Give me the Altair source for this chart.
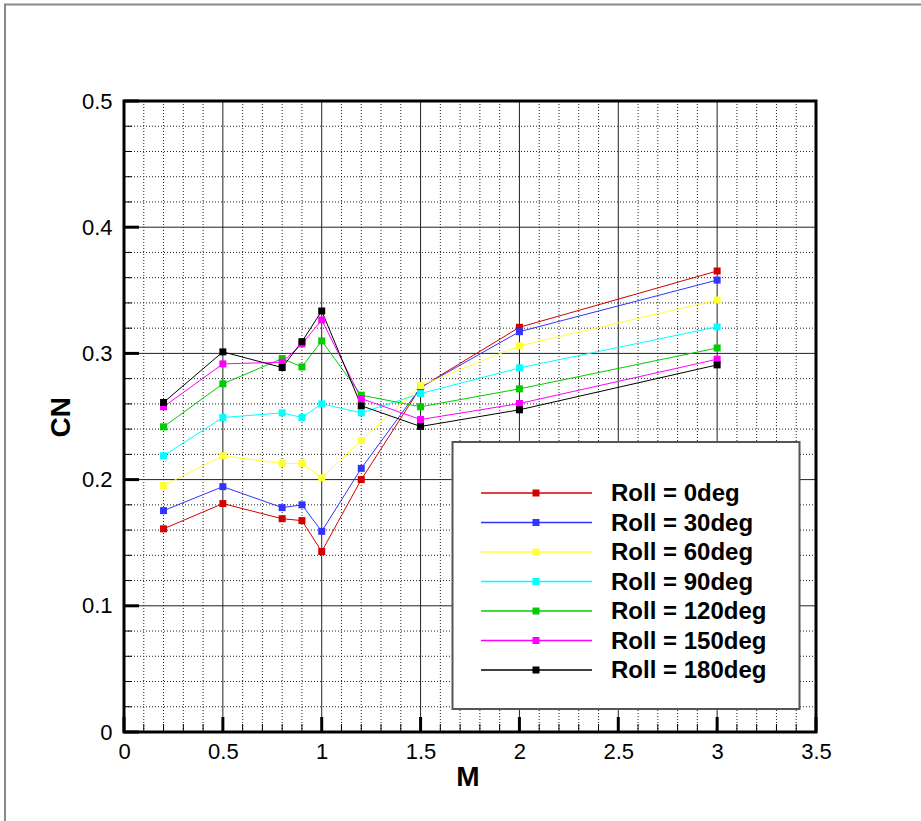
import altair as alt
import pandas as pd

# Mach numbers at which CN was evaluated
mach = [0.2, 0.5, 0.8, 0.9, 1.0, 1.2, 1.5, 2.0, 3.0]

# Series names and their line/marker colours
roll_labels = ["Roll = 0deg", "Roll = 30deg", "Roll = 60deg", "Roll = 90deg",
               "Roll = 120deg", "Roll = 150deg", "Roll = 180deg"]
roll_colors = ["#d40000", "#3333ff", "#ffff33", "#00ffff", "#00cc00", "#ff00ff", "#000000"]

# Normal-force coefficient for each roll angle
cn_roll0 = [0.161, 0.181, 0.169, 0.1675, 0.143, 0.200, 0.273, 0.3207, 0.3653]
cn_roll30 = [0.1754, 0.1944, 0.1778, 0.180, 0.159, 0.2089, 0.273, 0.3172, 0.3581]
cn_roll60 = [0.1952, 0.2189, 0.2128, 0.2128, 0.2015, 0.231, 0.2745, 0.306, 0.3423]
cn_roll90 = [0.2189, 0.2492, 0.2529, 0.2492, 0.260, 0.2529, 0.2682, 0.2885, 0.321]
cn_roll120 = [0.2418, 0.2759, 0.2959, 0.2893, 0.3099, 0.2669, 0.2577, 0.2719, 0.3043]
cn_roll150 = [0.2577, 0.2917, 0.293, 0.3075, 0.3265, 0.2642, 0.2476, 0.2603, 0.2954]
cn_roll180 = [0.2611, 0.3012, 0.2888, 0.3093, 0.3336, 0.2585, 0.2421, 0.2553, 0.2909]

# Tick values
x_major = [0, 0.5, 1, 1.5, 2, 2.5, 3, 3.5]
x_minor = [0.1, 0.2, 0.3, 0.4, 0.6, 0.7, 0.8, 0.9, 1.1, 1.2, 1.3, 1.4, 1.6, 1.7, 1.8,
           1.9, 2.1, 2.2, 2.3, 2.4, 2.6, 2.7, 2.8, 2.9, 3.1, 3.2, 3.3, 3.4]
y_major = [0, 0.1, 0.2, 0.3, 0.4, 0.5]
y_minor = [0.02, 0.04, 0.06, 0.08, 0.12, 0.14, 0.16, 0.18, 0.22, 0.24, 0.26, 0.28,
           0.32, 0.34, 0.36, 0.38, 0.42, 0.44, 0.46, 0.48]

W, H = 692, 631
FONT = "Liberation Sans"

series_values = [cn_roll0, cn_roll30, cn_roll60, cn_roll90, cn_roll120, cn_roll150, cn_roll180]
rows = []
for order, (name, vals) in enumerate(zip(roll_labels, series_values)):
    for m, v in zip(mach, vals):
        rows.append({"series": name, "M": m, "CN": v, "k": order})
df = pd.DataFrame(rows)

x_scale = alt.Scale(domain=[0, 3.5], nice=False, zero=False)
y_scale = alt.Scale(domain=[0, 0.5], nice=False, zero=False)
color_scale = alt.Scale(domain=roll_labels, range=roll_colors)

one = pd.DataFrame({"a": [0]})

# Outer gray page frame
page_frame = alt.Chart(one).mark_rect(filled=False, stroke="#888888", strokeWidth=2).encode(
    x=alt.value(-119), x2=alt.value(900), y=alt.value(-96.5), y2=alt.value(800))

# Grid lines
v_minor = alt.Chart(pd.DataFrame({"M": x_minor})).mark_rule(
    color="#222222", strokeWidth=1, strokeDash=[1, 2]).encode(
    x=alt.X("M:Q", scale=x_scale, axis=None))
h_minor = alt.Chart(pd.DataFrame({"CN": y_minor})).mark_rule(
    color="#222222", strokeWidth=1, strokeDash=[1, 2]).encode(
    y=alt.Y("CN:Q", scale=y_scale, axis=None))
v_major = alt.Chart(pd.DataFrame({"M": x_major})).mark_rule(
    color="#222222", strokeWidth=1).encode(
    x=alt.X("M:Q", scale=x_scale, axis=None))
h_major = alt.Chart(pd.DataFrame({"CN": y_major})).mark_rule(
    color="#222222", strokeWidth=1).encode(
    y=alt.Y("CN:Q", scale=y_scale, axis=None))

# Inward ticks on bottom and left
x_tick_major = alt.Chart(pd.DataFrame({"M": x_major})).mark_rule(
    color="black", strokeWidth=3).encode(
    x=alt.X("M:Q", scale=x_scale, axis=None), y=alt.value(H), y2=alt.value(H - 15))
x_tick_minor = alt.Chart(pd.DataFrame({"M": x_minor})).mark_rule(
    color="black", strokeWidth=1).encode(
    x=alt.X("M:Q", scale=x_scale, axis=None), y=alt.value(H), y2=alt.value(H - 8))
y_tick_major = alt.Chart(pd.DataFrame({"CN": y_major})).mark_rule(
    color="black", strokeWidth=3).encode(
    y=alt.Y("CN:Q", scale=y_scale, axis=None), x=alt.value(0), x2=alt.value(15))
y_tick_minor = alt.Chart(pd.DataFrame({"CN": y_minor})).mark_rule(
    color="black", strokeWidth=1).encode(
    y=alt.Y("CN:Q", scale=y_scale, axis=None), x=alt.value(0), x2=alt.value(8))

# Data series
x_axis = alt.Axis(values=x_major, format="~g", labelFontSize=22, labelFont=FONT,
                  labelColor="black", labelFlush=False, labelOverlap=False,
                  domain=False, ticks=False, tickSize=0, grid=False, labelPadding=9,
                  title="M", titleFont=FONT, titleFontSize=28, titleFontWeight="bold",
                  titleColor="black", titleX=343.5, titleY=53.7, titleBaseline="alphabetic")
y_axis = alt.Axis(values=y_major, format="~g", labelFontSize=22, labelFont=FONT,
                  labelColor="black", labelFlush=False, labelOverlap=False,
                  domain=False, ticks=False, tickSize=0, grid=False, labelPadding=12,
                  title="CN", titleFont=FONT, titleFontSize=28, titleFontWeight="bold",
                  titleColor="black", titleX=-55, titleY=315.7, titleBaseline="alphabetic",
                  titleAngle=270)

lines = alt.Chart(df).mark_line(strokeWidth=1).encode(
    x=alt.X("M:Q", scale=x_scale, axis=x_axis),
    y=alt.Y("CN:Q", scale=y_scale, axis=y_axis),
    color=alt.Color("series:N", scale=color_scale, legend=None),
    order=alt.Order("M:Q"),
)
points = alt.Chart(df).mark_square(size=49, opacity=1).encode(
    x=alt.X("M:Q", scale=x_scale, axis=None),
    y=alt.Y("CN:Q", scale=y_scale, axis=None),
    color=alt.Color("series:N", scale=color_scale, legend=None),
    order=alt.Order("k:Q"),
)

# Plot frame
frame = alt.Chart(one).mark_rect(filled=False, stroke="black", strokeWidth=3).encode(
    x=alt.value(0), x2=alt.value(W), y=alt.value(0), y2=alt.value(H))

# Legend box
leg_df = pd.DataFrame({"series": roll_labels})
leg_y = alt.Y("series:N", scale=alt.Scale(type="point", domain=roll_labels,
                                           range=[392, 569], padding=0), axis=None)
leg_box = alt.Chart(one).mark_rect(fill="white", stroke="#555555", strokeWidth=2).encode(
    x=alt.value(328.5), x2=alt.value(675.5), y=alt.value(341), y2=alt.value(608))
leg_lines = alt.Chart(leg_df).mark_rule(strokeWidth=1.5).encode(
    x=alt.value(357), x2=alt.value(468), y=leg_y,
    color=alt.Color("series:N", scale=color_scale, legend=None))
leg_marks = alt.Chart(leg_df).mark_square(size=49, opacity=1).encode(
    x=alt.value(412), y=leg_y,
    color=alt.Color("series:N", scale=color_scale, legend=None))
leg_text = alt.Chart(leg_df).mark_text(
    align="left", baseline="alphabetic", dy=8, fontSize=24, fontWeight="bold",
    font=FONT, color="black").encode(
    x=alt.value(487), y=leg_y, text="series:N")

chart = alt.layer(
    page_frame, v_minor, h_minor, v_major, h_major, x_tick_minor, y_tick_minor,
    x_tick_major, y_tick_major, leg_box, leg_lines, leg_marks, leg_text,
    lines, points, frame,
).resolve_scale(x="independent", y="independent").properties(
    width=W, height=H,
    autosize=alt.AutoSizeParams(type="none"),
    padding={"left": 124, "top": 101, "right": 105, "bottom": 89},
    background="white",
).configure_view(stroke=None)

chart.save("out.html", embed_options={"renderer": "svg", "actions": False})
